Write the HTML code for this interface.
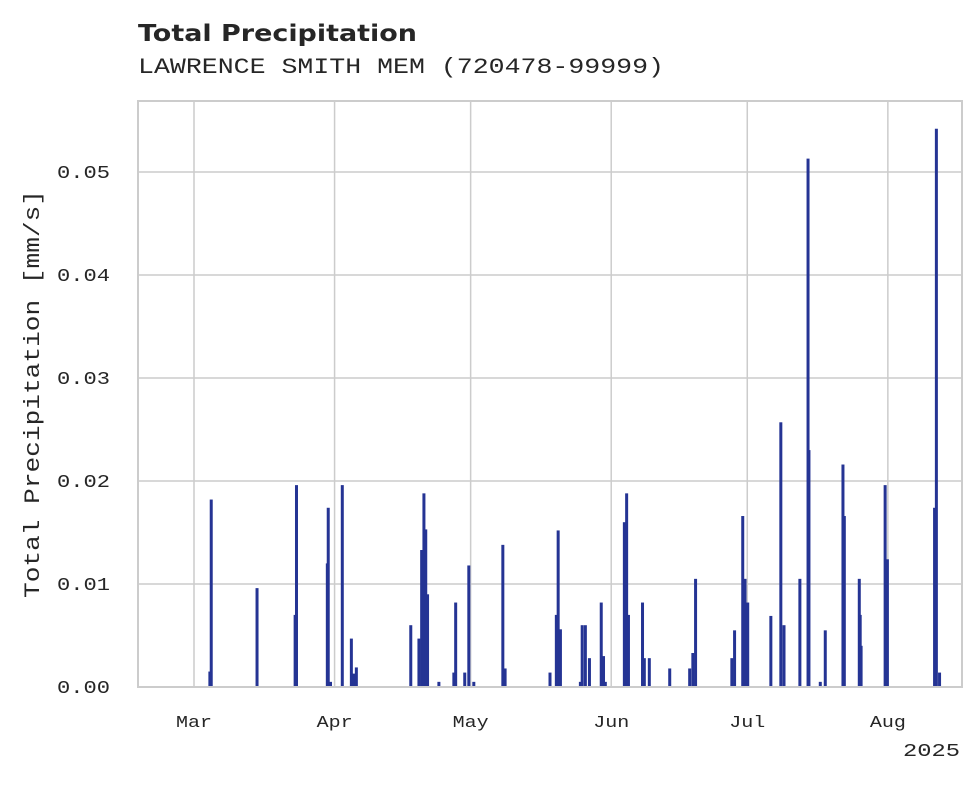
<!DOCTYPE html>
<html><head><meta charset="utf-8"><style>
body{margin:0;background:#fff}
svg text{font-family:"Liberation Mono","DejaVu Sans Mono",monospace;fill:#262626}
</style></head><body>
<svg width="980" height="783" viewBox="0 0 980 783" xmlns="http://www.w3.org/2000/svg">
<text x="138" y="41" textLength="279" lengthAdjust="spacingAndGlyphs" style="font-family:'DejaVu Sans','Liberation Sans',sans-serif;font-weight:bold;font-size:23px">Total Precipitation</text>
<text x="138" y="73" font-size="22" textLength="526" lengthAdjust="spacingAndGlyphs">LAWRENCE SMITH MEM (720478-99999)</text>
<g id="grid"></g>
<g id="bars"></g>
<rect x="138" y="101" width="824" height="586" fill="none" stroke="#cccccc" stroke-width="2"/>
<g id="labels"></g>
<text transform="translate(39,394) rotate(-90)" text-anchor="middle" font-size="22" textLength="408" lengthAdjust="spacingAndGlyphs">Total Precipitation [mm/s]</text>
<text x="960" y="756" text-anchor="end" font-size="18" textLength="57" lengthAdjust="spacingAndGlyphs">2025</text>
</svg>
<script>
const days=[3.5,3.8,13.9,22.3,22.6,29.4,29.6,30.1,32.7,34.7,35.2,35.8,47.8,49.6,50.2,50.7,51.1,51.5,54.0,57.3,57.7,59.7,60.6,61.7,68.1,68.6,78.5,79.9,80.3,80.8,85.2,85.6,86.3,87.2,89.8,90.3,90.7,94.9,95.4,95.8,98.9,99.3,100.4,104.9,109.3,110.0,110.6,118.6,119.2,121.0,121.5,122.1,127.2,129.4,130.1,133.6,135.4,135.6,138.1,139.2,143.1,143.4,146.7,146.9,147.1,152.4,152.9,163.3,163.7,164.4];
const values=[0.0015,0.0182,0.0096,0.007,0.0196,0.012,0.0174,0.0005,0.0196,0.0047,0.0013,0.0019,0.006,0.0047,0.0133,0.0188,0.0153,0.009,0.0005,0.0014,0.0082,0.0014,0.0118,0.0005,0.0138,0.0018,0.0014,0.007,0.0152,0.0056,0.0005,0.006,0.006,0.0028,0.0082,0.003,0.0005,0.016,0.0188,0.007,0.0082,0.0028,0.0028,0.0018,0.0018,0.0033,0.0105,0.0028,0.0055,0.0166,0.0105,0.0082,0.0069,0.0257,0.006,0.0105,0.0513,0.023,0.0005,0.0055,0.0216,0.0166,0.0105,0.007,0.004,0.0196,0.0124,0.0174,0.0542,0.0014];
const yTicks=[0,0.01,0.02,0.03,0.04,0.05];
const yTickLabels=["0.00","0.01","0.02","0.03","0.04","0.05"];
const xTickDays=[0,31,61,92,122,153];
const xTickLabels=["Mar","Apr","May","Jun","Jul","Aug"];
const NS="http://www.w3.org/2000/svg";
const X=d=>194+d*4.535;
const Y=v=>687-v*10300;
const grid=document.getElementById('grid'),bars=document.getElementById('bars'),labels=document.getElementById('labels');
function mk(tag,attrs,parent){const e=document.createElementNS(NS,tag);for(const k in attrs)e.setAttribute(k,attrs[k]);parent.appendChild(e);return e;}
yTicks.forEach((v,i)=>{
 const l=mk('line',{x1:138,x2:962,y1:Y(v),y2:Y(v),stroke:'#cccccc','stroke-width':1.5},grid);
 
 
 const t=mk('text',{x:110,y:Y(v)+6,'text-anchor':'end','font-size':18,textLength:53,lengthAdjust:'spacingAndGlyphs'},labels);
 t.textContent=yTickLabels[i];
 
 
});
xTickDays.forEach((d,i)=>{
 const l=mk('line',{x1:X(d),x2:X(d),y1:101,y2:687,stroke:'#cccccc','stroke-width':1.5},grid);
 
 
 const t=mk('text',{x:X(d),y:727,'text-anchor':'middle','font-size':17,textLength:36,lengthAdjust:'spacingAndGlyphs'},labels);
 t.textContent=xTickLabels[i];
 
 
});
days.forEach((d,i)=>{
 const y=Y(values[i]);
 const r=mk('rect',{x:X(d)-1.5,y:y,width:3,height:687-y,fill:'#253494'},bars);
 
 
});
</script>
</body></html>
